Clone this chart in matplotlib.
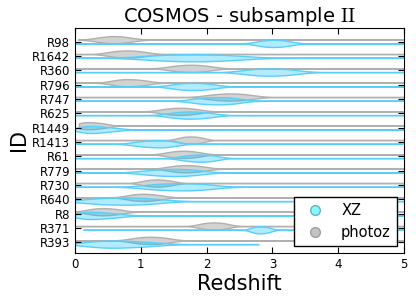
import numpy as np
import matplotlib
matplotlib.use('Agg')
import matplotlib.pyplot as plt
from matplotlib import mlab
from matplotlib.lines import Line2D

plt.rcParams['mathtext.fontset'] = 'cm'

# rows from top to bottom
ids = ['R98', 'R1642', 'R360', 'R796', 'R747', 'R625', 'R1449', 'R1413',
       'R61', 'R779', 'R730', 'R640', 'R8', 'R371', 'R393']

# redshift samples (XZ = cyan, photoz = gray)
xz_samples = [
    [2.80, 2.92, 3.02, 3.12, 3.25],
    [1.10, 1.40, 1.60, 1.80, 2.00, 2.20, 2.50],
    [2.62, 2.80, 2.97, 3.12, 3.32],
    [1.52, 1.66, 1.80, 1.92, 2.08],
    [1.85, 2.00, 2.16, 2.30, 2.45],
    [1.48, 1.62, 1.76, 1.88, 2.05],
    [0.10, 0.20, 0.29, 0.40, 0.60],
    [0.95, 1.10, 1.25, 1.35, 1.48],
    [1.65, 1.78, 1.90, 2.00, 2.12],
    [1.10, 1.32, 1.50, 1.65, 1.85],
    [1.15, 1.38, 1.60, 1.80, 2.00],
    [0.25, 0.50, 0.74, 0.95, 1.20],
    [0.08, 0.18, 0.29, 0.45, 0.65],
    [2.70, 2.76, 2.82, 2.88, 2.95],
    [0.25, 0.45, 0.64, 0.85, 1.15],
]
photoz_samples = [
    [0.35, 0.50, 0.60, 0.68, 0.85],
    [0.55, 0.68, 0.80, 0.90, 1.05],
    [1.48, 1.63, 1.76, 1.88, 2.03],
    [0.60, 0.72, 0.82, 0.93, 1.08],
    [2.05, 2.22, 2.36, 2.48, 2.65],
    [1.35, 1.48, 1.60, 1.70, 1.85],
    [0.08, 0.15, 0.24, 0.33, 0.45],
    [1.60, 1.68, 1.76, 1.84, 1.93],
    [1.43, 1.55, 1.65, 1.75, 1.88],
    [1.45, 1.58, 1.70, 1.80, 1.95],
    [1.05, 1.16, 1.25, 1.34, 1.46],
    [0.83, 0.95, 1.05, 1.15, 1.30],
    [0.22, 0.34, 0.44, 0.54, 0.68],
    [1.92, 2.02, 2.11, 2.20, 2.30],
    [0.90, 1.03, 1.15, 1.26, 1.40],
]
# redshift range covered by each distribution
xz_range = [(0, 5)] * 13 + [(0.13, 5), (0, 2.79)]
photoz_range = [(0.04, 5)] + [(0, 5)] * 5 + [(0.06, 5)] + [(0, 5)] * 8


def make_stats(samples, ranges):
    stats = []
    for s, (lo, hi) in zip(samples, ranges):
        s = np.asarray(s)
        coords = np.linspace(lo, hi, 400)
        kde = mlab.GaussianKDE(s, 'scott')
        stats.append(dict(coords=coords, vals=kde.evaluate(coords),
                          mean=s.mean(), median=np.median(s),
                          min=lo, max=hi))
    return stats


fig = plt.figure(figsize=(4.16, 3.03), dpi=100)
ax = fig.add_axes([75 / 416, 1 - 253 / 303, 329 / 416, 225.5 / 303])

pos = np.arange(len(ids), 0, -1)

parts_g = ax.violin(make_stats(photoz_samples, photoz_range), positions=pos + 0.13,
                    orientation='horizontal', widths=0.5,
                    showextrema=False, showmeans=False, showmedians=False)
parts_c = ax.violin(make_stats(xz_samples, xz_range), positions=pos - 0.13,
                    orientation='horizontal', widths=0.5,
                    showextrema=False, showmeans=False, showmedians=False)
for b in parts_g['bodies']:
    b.set_alpha(None)
    b.set_facecolor((0.5, 0.5, 0.5, 0.35))
    b.set_edgecolor('#b0b0b0')
    b.set_linewidth(1.0)
for b in parts_c['bodies']:
    b.set_alpha(None)
    b.set_facecolor((0.0, 0.75, 1.0, 0.3))
    b.set_edgecolor('#55d0fa')
    b.set_linewidth(1.0)

ax.set_xlim(0, 5)
ax.set_ylim(0.25, 15.98)
ax.set_yticks(pos)
ax.set_yticklabels(ids)
ax.tick_params(direction='in', top=True, right=True, labelsize=8.5, length=4)

ax.set_title(r'COSMOS - subsample $\mathrm{II}$', fontsize=14, pad=4)
ax.set_xlabel('Redshift', fontsize=15, labelpad=2)
ax.set_ylabel('ID', fontsize=15, labelpad=2)

handles = [
    Line2D([], [], ls='none', marker='o', markersize=7, markerfacecolor='#80faff',
           markeredgecolor='#6fb0b8'),
    Line2D([], [], ls='none', marker='o', markersize=7, markerfacecolor='#c4c4c4',
           markeredgecolor='#a0a0a0'),
]
leg = ax.legend(handles, ['XZ', 'photoz'], loc='lower right', fontsize=10.5,
                fancybox=False, edgecolor='black', framealpha=1,
                borderaxespad=0.45, handlelength=2.0, handletextpad=0.8,
                borderpad=0.45, labelspacing=0.45)
leg.get_frame().set_linewidth(1.0)

fig.savefig('out.png', dpi=100)
